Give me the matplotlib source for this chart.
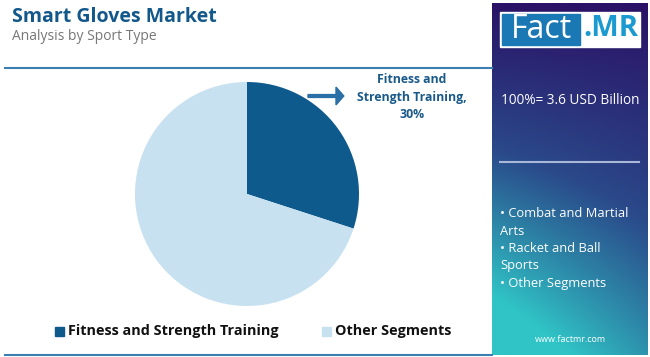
import matplotlib.pyplot as plt
import numpy as np
from matplotlib.patches import Rectangle, FancyArrow

# data
segments = ['Fitness and Strength Training', 'Other Segments']
shares = [30, 70]
colors = ['#0f5a8c', '#c7e1f1']
total_label = '100%= 3.6 USD Billion'
other_list = ['\u2022 Combat and Martial\nArts', '\u2022 Racket and Ball\nSports', '\u2022 Other Segments']

W, H = 650, 357
plt.rcParams['font.family'] = ['Open Sans', 'DejaVu Sans']
fig = plt.figure(figsize=(W / 100, H / 100), dpi=100)
fig.patch.set_facecolor('white')


def fx(x):
    return x / W


def fy(y):
    return 1 - y / H


# header
fig.text(fx(12), fy(17), 'Smart Gloves Market', fontsize=14, fontweight='bold',
         color='#12588a', va='center')
fig.text(fx(12), fy(37), 'Analysis by Sport Type', fontsize=10, color='#777777', va='center')
fig.add_artist(plt.Line2D([fx(5), fx(492)], [fy(68), fy(68)], color='#3a7fb0', lw=1.5))
fig.add_artist(plt.Line2D([fx(5), fx(492)], [fy(355), fy(355)], color='#3a7fb0', lw=1.5))

# pie
r = 112
ax = fig.add_axes([fx(247 - r), fy(194 + r), 2 * r / W, 2 * r / H])
ax.pie(shares, colors=colors, startangle=90, counterclock=False,
       wedgeprops=dict(linewidth=0))
ax.set_xlim(-1, 1)
ax.set_ylim(-1, 1)
ax.set_aspect('equal')

# annotation
fig.add_artist(FancyArrow(fx(308), fy(96), fx(28), 0, width=0.008, head_width=0.05,
                          head_length=0.012, color='#2a6fa6', length_includes_head=False))
fig.text(fx(412), fy(97), 'Fitness and\nStrength Training,\n30%', fontsize=8.8,
         fontweight='bold', color='#1a5a8a', ha='center', va='center', linespacing=1.45)

# legend
lx = [55, 322]
for i, seg in enumerate(segments):
    fig.add_artist(Rectangle((fx(lx[i]), fy(336)), 9 / W, 9 / H, color=colors[i]))
    fig.text(fx(lx[i] + 13), fy(331), seg, fontsize=10.4, fontweight='bold',
             color='#111111', va='center')

# side panel with gradient
pax = fig.add_axes([fx(492), fy(355), 156 / W, 352 / H])
yy, xx = np.mgrid[0:1:200j, 0:1:100j]
t = np.clip(0.8 * yy + 0.4 * (1 - xx) * yy, 0, 1)
top = np.array([0x2a, 0x12, 0x66]) / 255
mid = np.array([0x2a, 0x4a, 0x8a]) / 255
bot = np.array([0x30, 0xc4, 0xc6]) / 255
img = np.where(t[..., None] < 0.5,
               top + (mid - top) * (t[..., None] / 0.5),
               mid + (bot - mid) * ((t[..., None] - 0.5) / 0.5))
pax.imshow(img, aspect='auto', extent=[0, 1, 1, 0])
pax.set_xlim(0, 1)
pax.set_ylim(1, 0)
pax.axis('off')

# logo
fig.add_artist(Rectangle((fx(500), fy(47)), 140 / W, 35 / H, color='white'))
fig.add_artist(Rectangle((fx(502), fy(45)), 78 / W, 31 / H, color='#1a78b4'))
fig.text(fx(541), fy(29), 'Fact', fontsize=23, color='white', ha='center', va='center')
fig.text(fx(611), fy(29), '.MR', fontsize=21, fontweight='bold', color='#1a9ad0',
         ha='center', va='center')

fig.text(fx(501), fy(101), total_label, fontsize=9.8, color='white', va='center')
fig.add_artist(plt.Line2D([fx(500), fx(639)], [fy(162), fy(162)], color='#a9b8d8', lw=1.5))
fig.text(fx(500), fy(207), '\n'.join(other_list), fontsize=9.3, color='white', va='top',
         linespacing=1.45)
fig.text(fx(570), fy(340), 'www.factmr.com', fontsize=6.5, color='white', ha='center',
         va='center')

fig.savefig('out.png', dpi=100)
